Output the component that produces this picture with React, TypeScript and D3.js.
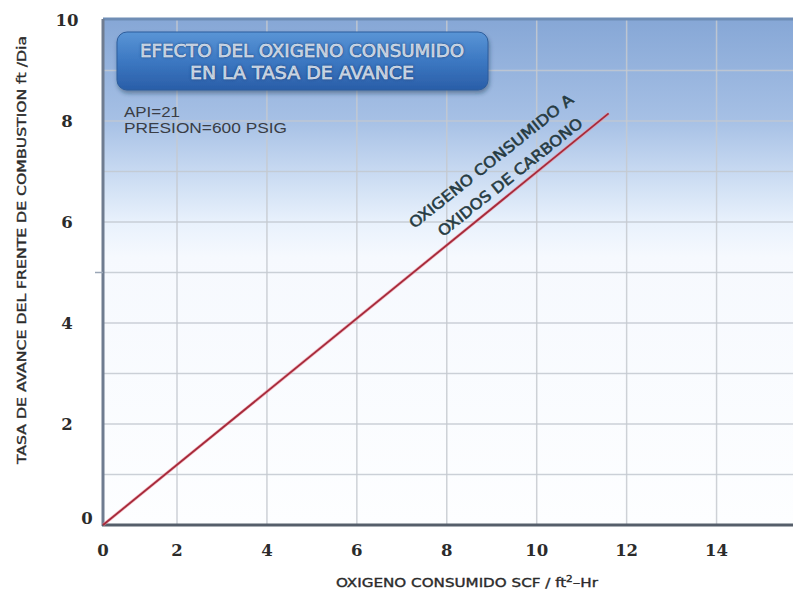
import React from "react";
import * as d3 from "d3";

const W = 793;
const H = 591;

// Data
const xTicks = [0, 2, 4, 6, 8, 10, 12, 14];
const yTicks = [0, 2, 4, 6, 8, 10];
const yGrid = [1, 2, 3, 4, 5, 6, 7, 8, 9];
const seriesX = [0, 11.6];
const seriesY = [0, 8.15];
const titleLines = ["EFECTO DEL OXIGENO CONSUMIDO", "EN LA TASA DE AVANCE"];
const notes = ["API=21", "PRESION=600 PSIG"];
const lineLabels = ["OXIGENO CONSUMIDO A", "OXIDOS DE CARBONO"];
const yTitle = "TASA DE AVANCE DEL FRENTE DE COMBUSTION ft /Dia";

const plotLeft = 103;
const plotRight = 793;
const plotTop = 19;
const plotBottom = 525;

const x = d3.scaleLinear().domain([0, 2, 15.7]).range([plotLeft, 177, plotRight]);
const y = d3.scaleLinear().domain([0, 10]).range([plotBottom, 20]);

const points: [number, number][] = seriesX.map((v, i) => [v, seriesY[i]]);
const lineGen = d3
  .line<[number, number]>()
  .x((d) => x(d[0]))
  .y((d) => y(d[1]));

const narrow = "'Liberation Sans Narrow', 'DejaVu Sans Condensed', 'Open Sans', sans-serif";

export default function App() {
  return (
    <svg
      width={W}
      height={H}
      style={{ position: "fixed", left: 0, top: 0, background: "#ffffff" }}
    >
      <defs>
        <linearGradient id="bg" x1="0" y1="0" x2="0" y2="1">
          <stop offset="0" stopColor="#86a7d6" />
          <stop offset="0.2" stopColor="#a6c0e5" />
          <stop offset="0.3" stopColor="#c7d9f1" />
          <stop offset="0.4" stopColor="#e8f1fc" />
          <stop offset="0.47" stopColor="#f6f9fe" />
          <stop offset="1" stopColor="#fdfeff" />
        </linearGradient>
        <linearGradient id="tbox" x1="0" y1="0" x2="0" y2="1">
          <stop offset="0" stopColor="#5a95d6" />
          <stop offset="0.5" stopColor="#3c78c2" />
          <stop offset="1" stopColor="#2a5ea8" />
        </linearGradient>
        <filter id="shadow" x="-10%" y="-20%" width="120%" height="150%">
          <feDropShadow dx="1" dy="3" stdDeviation="2" floodColor="#1a3050" floodOpacity="0.45" />
        </filter>
      </defs>

      {/* plot background */}
      <rect
        x={plotLeft}
        y={plotTop}
        width={plotRight - plotLeft}
        height={plotBottom - plotTop}
        fill="url(#bg)"
      />

      {/* horizontal grid */}
      {yGrid.map((v) => (
        <line
          key={"hg" + v}
          x1={plotLeft}
          x2={plotRight}
          y1={y(v)}
          y2={y(v)}
          stroke="#c3c9d1"
          strokeWidth={1.5}
          opacity={0.85}
        />
      ))}
      {/* vertical grid */}
      {xTicks.slice(1).map((v) => (
        <line
          key={"vg" + v}
          x1={x(v)}
          x2={x(v)}
          y1={plotTop}
          y2={plotBottom}
          stroke="#c6cad0"
          strokeWidth={1.5}
          opacity={0.85}
        />
      ))}

      {/* borders / axes */}
      <line x1={plotLeft} x2={plotRight} y1={plotTop} y2={plotTop} stroke="#6f8db5" strokeWidth={3} />
      <line x1={plotLeft} x2={plotLeft} y1={plotTop} y2={plotBottom + 1} stroke="#6f7c90" strokeWidth={3} />
      <line x1={plotLeft - 1} x2={plotRight} y1={plotBottom} y2={plotBottom} stroke="#555e6a" strokeWidth={3} />
      <line x1={plotLeft - 8} x2={plotLeft} y1={y(5)} y2={y(5)} stroke="#9aa6b6" strokeWidth={1.5} />

      {/* series */}
      <path d={lineGen(points) || ""} fill="none" stroke="#f08a9a" strokeWidth={3.2} opacity={0.6} />
      <path d={lineGen(points) || ""} fill="none" stroke="#a52a3a" strokeWidth={1.8} />

      {/* title box */}
      <rect
        x={117}
        y={32}
        width={371}
        height={58}
        rx={10}
        ry={10}
        fill="url(#tbox)"
        stroke="#2d5d9c"
        strokeWidth={1}
        filter="url(#shadow)"
      />
      {titleLines.map((t, i) => (
        <text
          key={t}
          x={302}
          y={57 + i * 22}
          textAnchor="middle"
          fontFamily={narrow}
          fontSize={17}
          fill="#eef4fb"
          stroke="#eef4fb"
          strokeWidth={0.4}
          textLength={i === 0 ? 324 : 224}
          lengthAdjust="spacingAndGlyphs"
          style={{ textShadow: "0 0 2px #1d3f70" }}
        >
          {t}
        </text>
      ))}

      {/* notes */}
      {notes.map((t, i) => (
        <text
          key={t}
          x={124}
          y={117 + i * 16}
          fontFamily="'Liberation Sans', Arial, sans-serif"
          fontSize={14}
          fill="#3a3d44"
          textLength={i === 0 ? 56 : 163}
          lengthAdjust="spacingAndGlyphs"
        >
          {t}
        </text>
      ))}

      {/* line labels */}
      {lineLabels.map((t, i) => {
        const cx = i === 0 ? 491 : 510;
        const cy = i === 0 ? 161 : 177;
        return (
          <text
            key={t}
            transform={`translate(${cx},${cy}) rotate(-38.5)`}
            textAnchor="middle"
            dy="0.36em"
            fontFamily={narrow}
            fontSize={15}
            fill="#263b42"
            stroke="#263b42"
            strokeWidth={0.5}
            textLength={i === 0 ? 205 : 180}
            lengthAdjust="spacingAndGlyphs"
          >
            {t}
          </text>
        );
      })}

      {/* y tick labels */}
      {yTicks.map((v) => (
        <text
          key={"yt" + v}
          x={v === 0 ? 87 : 67}
          y={v === 0 ? 518 : y(v)}
          dy="0.35em"
          textAnchor="middle"
          fontFamily="'DejaVu Serif', 'Liberation Serif', serif"
          fontWeight={700}
          fontSize={16.5}
          fill="#2b2b2b"
        >
          {v}
        </text>
      ))}

      {/* x tick labels */}
      {xTicks.map((v) => (
        <text
          key={"xt" + v}
          x={x(v)}
          y={556}
          textAnchor="middle"
          fontFamily="'DejaVu Serif', 'Liberation Serif', serif"
          fontWeight={700}
          fontSize={16.5}
          fill="#2b2b2b"
        >
          {v}
        </text>
      ))}

      {/* axis titles */}
      <text
        transform={`translate(26,250) rotate(-90)`}
        textAnchor="middle"
        fontFamily={narrow}
        fontSize={13}
        fill="#2b2b2b"
        stroke="#2b2b2b"
        strokeWidth={0.35}
        textLength={428}
        lengthAdjust="spacingAndGlyphs"
      >
        {yTitle}
      </text>
      <text
        x={467}
        y={587}
        textAnchor="middle"
        fontFamily={narrow}
        fontSize={13}
        fill="#2b2b2b"
        stroke="#2b2b2b"
        strokeWidth={0.35}
        textLength={262}
        lengthAdjust="spacingAndGlyphs"
      >
        OXIGENO CONSUMIDO SCF / ft<tspan dy={-5} fontSize={9}>2</tspan>
        <tspan dy={5}>–Hr</tspan>
      </text>
    </svg>
  );
}
